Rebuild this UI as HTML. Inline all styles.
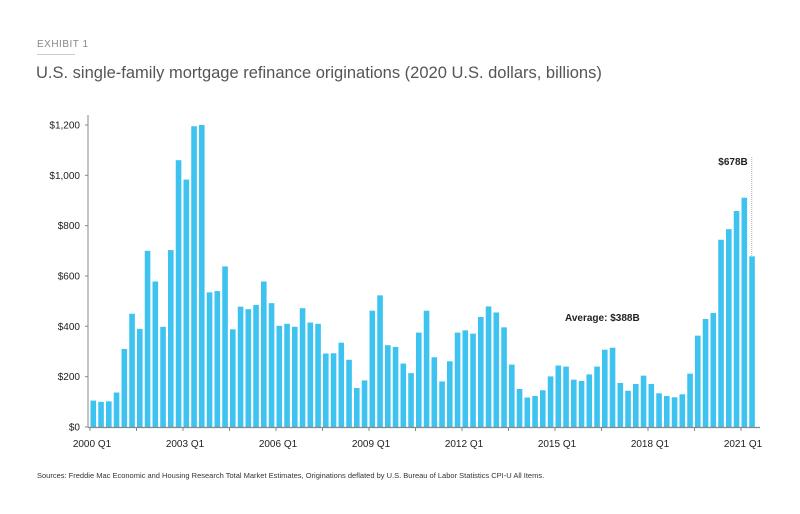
<!DOCTYPE html>
<html><head><meta charset="utf-8"><style>
html,body{margin:0;padding:0;background:#fff;width:800px;height:514px;overflow:hidden}
body{font-family:"Liberation Sans",sans-serif;position:relative}
</style></head><body>
<div style="position:absolute;left:37px;top:39px;font-size:10px;color:#888;letter-spacing:0.5px">EXHIBIT 1</div>
<div style="position:absolute;left:37px;top:54px;width:38px;height:1px;background:#ccc"></div>
<div style="position:absolute;left:36px;top:64px;font-size:16.5px;color:#555;white-space:nowrap">U.S. single-family mortgage refinance originations (2020 U.S. dollars, billions)</div>
<svg id="chart" width="800" height="514" style="position:absolute;left:0;top:0"></svg>
<div style="position:absolute;left:37px;top:471px;font-size:7.5px;color:#333;white-space:nowrap">Sources: Freddie Mac Economic and Housing Research Total Market Estimates, Originations deflated by U.S. Bureau of Labor Statistics CPI-U All Items.</div>
<script>
const values = [105,100,102,137, 310,450,390,700, 578,398,703,1060, 983,1195,1200,535, 540,638,388,478, 468,485,578,492, 402,410,398,472, 415,410,292,293, 335,267,155,185, 462,523,325,318,
252,214,375,462, 277,181,261,375, 384,371,437,479, 455,396,248,151, 117,123,146,201, 244,240,188,183, 209,240,307,315, 175,144,171,204, 171,134,123,118, 130,212,363,429, 453,744,786,858, 911,678];
const yTicks = [0,200,400,600,800,1000,1200];
const yTickLabels = ["$0","$200","$400","$600","$800","$1,000","$1,200"];
const xTickIdx = [0,12,24,36,48,60,72,84];
const xTickLabels = ["2000 Q1","2003 Q1","2006 Q1","2009 Q1","2012 Q1","2015 Q1","2018 Q1","2021 Q1"];
const NS="http://www.w3.org/2000/svg";
const svg=document.getElementById('chart');
const x0=90, step=7.75, y0=427, k=0.2517;
const xs=i=>x0+i*step;
const ys=v=>y0-v*k;
function mk(t,a){const e=document.createElementNS(NS,t);for(const n in a)e.setAttribute(n,a[n]);svg.appendChild(e);return e;}
// y axis
let ax=mk('line',{x1:88,y1:115,x2:88,y2:y0,stroke:'#888','stroke-width':1});


yTicks.forEach((v,i)=>{
  const t=mk('text',{x:80,y:ys(v)+3.5,'text-anchor':'end','font-size':10,fill:'#222','font-family':'Liberation Sans, sans-serif'});
  t.textContent=yTickLabels[i];
  
  
  const tk=mk('line',{x1:85,y1:ys(v),x2:88,y2:ys(v),stroke:'#888'});
  
  
});
// bars
values.forEach((v,i)=>{
  const r=mk('rect',{x:xs(i)+0.5,y:ys(v),width:5.6,height:v*k,fill:'#3ec3f0'});
  
  
});
// x axis
let xa=mk('line',{x1:88,y1:y0+0.5,x2:760,y2:y0+0.5,stroke:'#888','stroke-width':1.2});


xTickIdx.forEach((idx,i)=>{
  const tk=mk('line',{x1:xs(idx),y1:y0,x2:xs(idx),y2:y0+4,stroke:'#888'});
  
  
  if(i<xTickIdx.length-1){
    const m=mk('line',{x1:xs(idx+6),y1:y0,x2:xs(idx+6),y2:y0+4,stroke:'#888'});
    
    
  }
  const t=mk('text',{x:xs(idx)+2,y:y0+20,'text-anchor':'middle','font-size':10,fill:'#222','font-family':'Liberation Sans, sans-serif'});
  t.textContent=xTickLabels[i];
  
  
});
// annotations
const last=values.length-1;
let dl=mk('line',{x1:xs(last)+3,y1:157,x2:xs(last)+3,y2:ys(values[last]),stroke:'#aaa','stroke-dasharray':'1,1'});


let la=mk('text',{x:xs(last)-1,y:165,'text-anchor':'end','font-size':10,'font-weight':'bold',fill:'#222','font-family':'Liberation Sans, sans-serif'});
la.textContent='$'+values[last]+'B';


let av=mk('text',{x:565,y:321,'font-size':10,'font-weight':'bold',fill:'#222','font-family':'Liberation Sans, sans-serif'});
av.textContent='Average: $388B';


</script>
</body></html>
